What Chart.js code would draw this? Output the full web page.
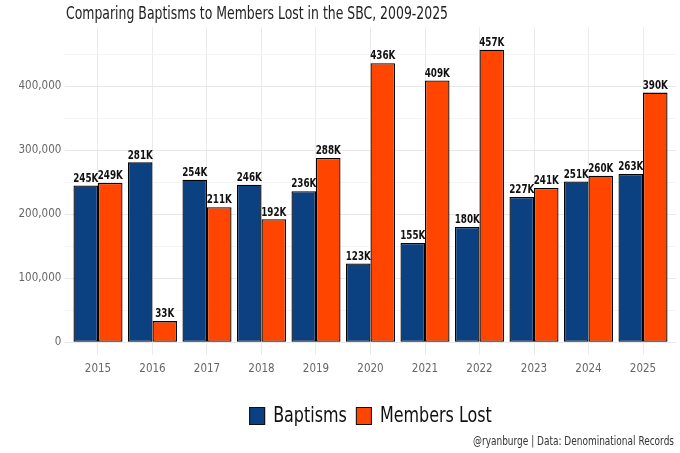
<!DOCTYPE html>
<html>
<head>
<meta charset="utf-8">
<script src="https://cdn.jsdelivr.net/npm/chart.js@4.4.1/dist/chart.umd.min.js"></script>
<style>
  html, body { margin: 0; padding: 0; background: #ffffff; }
  #wrap { width: 680px; height: 453px; position: relative; }
</style>
</head>
<body>
<div id="wrap"><canvas id="c" width="680" height="453"></canvas></div>
<script>
const years = [2015, 2016, 2017, 2018, 2019, 2020, 2021, 2022, 2023, 2024, 2025];
const baptisms = [245000, 281000, 254000, 246000, 236000, 123000, 155000, 180000, 227000, 251000, 263000];
const membersLost = [249000, 33000, 211000, 192000, 288000, 436000, 409000, 457000, 241000, 260000, 390000];
const seriesNames = ['Baptisms', 'Members Lost'];
const yTickValues = [0, 100000, 200000, 300000, 400000];

const FONT = "'Liberation Sans Narrow', 'DejaVu Sans Condensed', 'Roboto Condensed', 'Arial Narrow', sans-serif";
const NAVY = '#0b4181';
const ORANGE = '#ff4500';

// draw text horizontally squeezed by factor sx (keeps it real text)
function drawSqueezed(ctx, text, x, y, sx, align) {
  const w = ctx.measureText(text).width * sx;
  let left = x;
  if (align === 'center') left = x - w / 2;
  else if (align === 'right') left = x - w;
  ctx.save();
  ctx.textAlign = 'left';
  ctx.translate(left, y);
  ctx.scale(sx, 1);
  ctx.fillText(text, 0, 0);
  ctx.restore();
  return w;
}

const labelPlugin = {
  id: 'barLabels',
  afterDatasetsDraw(chart) {
    const ctx = chart.ctx;
    ctx.save();
    ctx.font = "bold 11.5px " + FONT;
    ctx.fillStyle = '#111';
    ctx.textBaseline = 'bottom';
    chart.data.datasets.forEach((ds, di) => {
      const meta = chart.getDatasetMeta(di);
      meta.data.forEach((bar, i) => {
        const v = ds.data[i].y;
        drawSqueezed(ctx, Math.round(v / 1000) + 'K', bar.x, bar.y - 1, 0.85, 'center');
      });
    });
    ctx.restore();
  }
};

const decorPlugin = {
  id: 'decor',
  afterDraw(chart) {
    const ctx = chart.ctx;
    ctx.save();
    // Title
    ctx.font = "17.5px " + FONT;
    ctx.fillStyle = '#222';
    ctx.textBaseline = 'alphabetic';
    const title = 'Comparing Baptisms to Members Lost in the SBC, 2009-2025';
    drawSqueezed(ctx, title, 66, 19, 382 / ctx.measureText(title).width, 'left');

    // Legend
    ctx.font = "21px " + FONT;
    const sxL = 0.845;
    const items = chart.data.datasets.map(d => ({ text: d.label, color: d.backgroundColor }));
    const box = 16, gapBoxText = 8, gapItems = 9;
    let total = 0;
    items.forEach((it, i) => {
      total += box + gapBoxText + ctx.measureText(it.text).width * sxL + (i < items.length - 1 ? gapItems : 0);
    });
    const ca = chart.chartArea;
    let x = (ca.left + ca.right) / 2 - total / 2;
    const cy = 416;
    items.forEach(it => {
      ctx.fillStyle = it.color;
      ctx.fillRect(x, cy - 9, box, 18);
      ctx.strokeStyle = '#111';
      ctx.lineWidth = 1;
      ctx.strokeRect(x + 0.5, cy - 8.5, box - 1, 17);
      x += box + gapBoxText;
      ctx.fillStyle = '#111';
      ctx.textBaseline = 'middle';
      const w = drawSqueezed(ctx, it.text, x, cy + 1, sxL, 'left');
      x += w + gapItems;
    });

    // Caption
    ctx.font = "13px " + FONT;
    ctx.fillStyle = '#333';
    ctx.textBaseline = 'middle';
    const cap = '@ryanburge | Data: Denominational Records';
    drawSqueezed(ctx, cap, 674, 442, 201 / ctx.measureText(cap).width, 'right');
    ctx.restore();
  }
};

new Chart(document.getElementById('c'), {
  type: 'bar',
  data: {
    datasets: [
      {
        label: seriesNames[0],
        data: years.map((y, i) => ({ x: y, y: baptisms[i] })),
        backgroundColor: NAVY,
        borderColor: '#000',
        borderWidth: 1.3,
        borderSkipped: false,
        categoryPercentage: 0.9,
        barPercentage: 1.0
      },
      {
        label: seriesNames[1],
        data: years.map((y, i) => ({ x: y, y: membersLost[i] })),
        backgroundColor: ORANGE,
        borderColor: '#000',
        borderWidth: 1.3,
        borderSkipped: false,
        categoryPercentage: 0.9,
        barPercentage: 1.0
      }
    ]
  },
  options: {
    responsive: false,
    animation: false,
    devicePixelRatio: 1,
    layout: { padding: { left: 0, right: 4.3, top: 27, bottom: 68 } },
    plugins: {
      legend: { display: false },
      title: { display: false },
      tooltip: { enabled: false }
    },
    scales: {
      x: {
        type: 'linear',
        offset: false,
        min: years[0] - 0.6,
        max: years[years.length - 1] + 0.6,
        afterBuildTicks(scale) {
          scale.ticks = years.map(v => ({ value: v }));
        },
        afterFit(scale) { scale.height = 30; },
        ticks: {
          callback: v => String(v),
          color: '#666',
          font: { family: FONT, size: 11.5 },
          padding: 7,
          maxRotation: 0,
          autoSkip: false
        },
        grid: { color: '#ebebeb', lineWidth: 1, drawTicks: false, offset: false },
        border: { display: false }
      },
      y: {
        min: -20000,
        max: 492500,
        afterBuildTicks(scale) {
          const t = [];
          for (let v = 0; v <= 450000; v += 50000) t.push({ value: v });
          scale.ticks = t;
        },
        afterFit(scale) { scale.width = 65.3; },
        ticks: {
          callback: v => (yTickValues.includes(v) ? v.toLocaleString('en-US') : ''),
          color: '#666',
          font: { family: FONT, size: 11.5 },
          padding: 4,
          autoSkip: false
        },
        grid: {
          color: ctx => (ctx.tick && ctx.tick.value % 100000 === 0 ? '#e8e8e8' : '#f4f4f4'),
          lineWidth: 1,
          drawTicks: false
        },
        border: { display: false }
      }
    }
  },
  plugins: [labelPlugin, decorPlugin]
});
</script>
</body>
</html>
